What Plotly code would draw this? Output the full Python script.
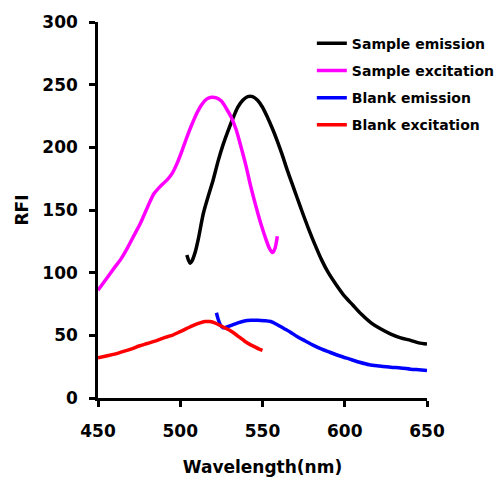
import plotly.graph_objects as go

# Sample emission (black)
se_x = [504, 505, 506, 507, 509, 511, 514, 517, 520, 523, 526, 529, 532, 535, 538, 541, 544, 547, 550, 553, 556, 559, 562, 565, 568, 571, 574, 578, 582, 586, 590, 595, 600, 605, 610, 616, 622, 628, 634, 640, 645, 650]
se_y = [114, 110, 107.5, 109, 116, 127, 147, 161, 174, 189, 202, 213, 223, 232, 237.5, 240.5, 240.5, 237.5, 232, 224, 215, 205, 194, 182, 171, 160, 149, 135, 122, 110, 100, 90, 81, 74, 67, 60, 55, 51, 48, 46, 44, 43]

# Sample excitation (magenta)
sx_x = [450, 455, 460, 464, 468, 472, 476, 480, 484, 488, 492, 495, 498, 501, 504, 507, 510, 513, 516, 519, 522, 525, 528, 531, 534, 537, 540, 543, 546, 549, 552, 554, 556, 557.5, 559]
sx_y = [86, 95, 104, 111, 120, 130, 140, 152, 163, 169, 174, 179, 187, 197, 208, 218, 227, 234, 238.5, 240, 239.5, 237, 231, 224, 214, 200, 185, 168, 153, 139, 127, 120, 116, 119, 129]

# Blank emission (blue)
be_x = [522, 523, 524.5, 526, 528, 531, 535, 539, 543, 547, 551, 555, 559, 563, 567, 571, 576, 581, 586, 591, 597, 603, 609, 615, 621, 628, 634, 640, 645, 650]
be_y = [68, 63, 58, 56, 56.5, 58, 60, 61.5, 62, 62, 61.7, 61, 58.5, 55.5, 52.5, 49, 45.5, 42, 39, 36.5, 33.5, 31, 28.5, 26.5, 25.5, 24.5, 24, 23, 22.5, 22]

# Blank excitation (red)
bx_x = [450, 455, 460, 465, 470, 475, 480, 486, 490, 495, 500, 504, 508, 512, 515, 518, 521, 524, 527, 530, 533, 536, 539, 542, 545, 548, 550]
bx_y = [32, 33.5, 35, 37, 39, 41.5, 43.5, 46, 48, 50, 53, 55.5, 58, 60, 61, 61, 60, 58, 56, 54, 51.5, 48.5, 45.5, 43, 41, 39, 38]

names = ["Sample emission", "Sample excitation", "Blank emission", "Blank excitation"]
colors = ["#000000", "#ff00ff", "#0000ff", "#ff0000"]
series = [(se_x, se_y), (sx_x, sx_y), (be_x, be_y), (bx_x, bx_y)]

x_ticks = [450, 500, 550, 600, 650]
y_ticks = [0, 50, 100, 150, 200, 250, 300]

fig = go.Figure()
for i, ((xs, ys), n, c) in enumerate(zip(series, names, colors)):
    fig.add_trace(go.Scatter(
        x=xs, y=ys, mode="lines", name="<b>" + n + "</b>",
        line=dict(color=c, width=3.5, shape="spline", smoothing=0.8),
        legendgroup=str(i),
    ))

font_family = "DejaVu Sans, Arial, sans-serif"
fig.update_layout(
    width=503, height=478,
    margin=dict(l=90, r=84, t=14, b=88, autoexpand=False),
    paper_bgcolor="white", plot_bgcolor="white",
    font=dict(family=font_family, color="black"),
    showlegend=True,
    legend=dict(
        x=0.65, y=0.985, xanchor="left", yanchor="top",
        font=dict(size=14, family=font_family, color="black"),
        bgcolor="rgba(0,0,0,0)", traceorder="grouped", tracegroupgap=6,
        itemwidth=30,
    ),
)
fig.update_xaxes(
    range=[450, 650], tickvals=x_ticks, ticktext=["<b>%d</b>" % v for v in x_ticks],
    automargin=False,
    showgrid=False, zeroline=False, showline=True, linecolor="black", linewidth=2.5,
    ticks="outside", ticklen=6, tickwidth=2.5, tickcolor="black", ticklabelstandoff=10,
    tickfont=dict(size=17, family=font_family, color="black"),
    title=dict(text="<b>Wavelength(nm)</b>", font=dict(size=17, family=font_family, color="black"), standoff=21),
)
fig.update_yaxes(
    range=[0, 300], tickvals=y_ticks, ticktext=["<b>%d</b>" % v for v in y_ticks],
    automargin=False,
    showgrid=False, zeroline=False, showline=True, linecolor="black", linewidth=2.5,
    ticks="outside", ticklen=6, tickwidth=2.5, tickcolor="black", ticklabelstandoff=8,
    tickfont=dict(size=17, family=font_family, color="black"),
    title=dict(text="<b>RFI</b>", font=dict(size=17, family=font_family, color="black"), standoff=10),
)

fig.write_html("out.html")
